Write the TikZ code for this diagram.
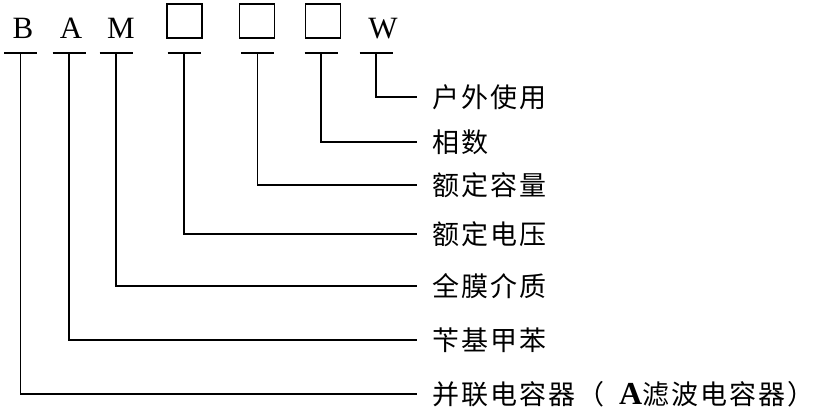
\documentclass[tikz,border=0pt]{standalone}
\usepackage{fontspec}
\setmainfont{Liberation Serif}
\newfontfamily\cjk[LetterSpace=8]{Noto Sans CJK SC}
\usepackage{tikz}

\tikzset{
  code/.style={anchor=base, inner sep=0pt, font=\fontsize{31}{31}\selectfont},
  slot/.style={draw, line width=1.2pt, minimum width=35pt, minimum height=34pt, inner sep=0pt},
  lab/.style={anchor=west, inner sep=0pt, font=\cjk\fontsize{27}{27}\selectfont},
  wire/.style={line width=1.2pt}
}

\begin{document}
\begin{tikzpicture}[x=1pt, y=-1pt]
		\useasboundingbox (0,0) rectangle (822,410);
		
		% code letters and empty slots
		\node[code] (cb) at (23,38) {B};
		\node[code] (ca) at (71,38) {A};
		\node[code] (cm) at (121,38) {M};
		\node[slot] (s1) at (184.5,21) {};
		\node[slot] (s2) at (257,21) {};
		\node[slot] (s3) at (323,21) {};
		\node[code] (cw) at (383,38) {W};
		
		% meanings
		\node[lab] (l7) at (432,97) {户外使用};
		\node[lab] (l6) at (432,142) {相数};
		\node[lab] (l5) at (432,185) {额定容量};
		\node[lab] (l4) at (432,234) {额定电压};
		\node[lab] (l3) at (432,286) {全膜介质};
		\node[lab] (l2) at (432,340) {苄基甲苯};
		\node[lab] (l1) at (432,394) {并联电容器（\hspace{14pt}{\rmfamily\bfseries\fontsize{32}{32}\selectfont A}滤波电容器）};
		
		% underlines and leaders
		\foreach \x/\l in {20.5/l1, 69/l2, 116/l3, 184/l4, 257.5/l5, 321/l6, 376/l7}{
			\coordinate (t) at (\x,53);
			\draw[wire] ([xshift=-16.5pt]t) -- ([xshift=16.5pt]t);
			\draw[wire] (t) |- ([xshift=-15pt]\l.west);
		}
		
\end{tikzpicture}
\end{document}
